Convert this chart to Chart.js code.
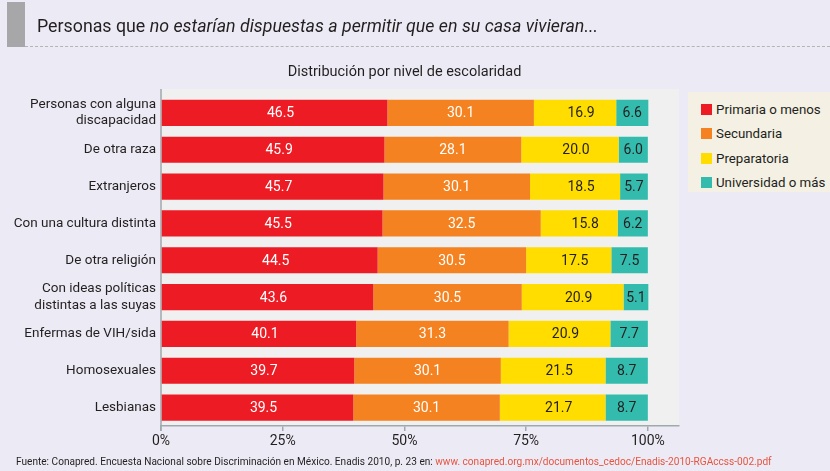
<!DOCTYPE html>
<html>
<head>
<meta charset="utf-8">
<script src="https://cdn.jsdelivr.net/npm/chart.js@4.4.1/dist/chart.umd.min.js"></script>
<style>
  html, body { margin:0; padding:0; }
  body { width:830px; height:471px; background:#ecebf5; position:relative; overflow:hidden; font-family: Roboto, "Liberation Sans", sans-serif; color:#231f20; }
  #wrap { position:absolute; left:0; top:0; width:830px; height:471px; }
  .hbar { position:absolute; left:7px; top:2px; width:18px; height:45px; background:#a7a7a9; }
  .hline { position:absolute; left:25px; top:46px; width:805px; height:0; border-top:1.5px dashed #b3b3b8; }
  .htitle { position:absolute; left:37px; top:15px; font-size:17.8px; white-space:nowrap; }
  .sub { position:absolute; left:161px; width:487px; top:63px; text-align:center; font-size:14.5px; }
  .legend { position:absolute; left:688px; top:92px; width:142px; height:100px; background:#f4f0e3; }
  .li { position:absolute; left:13px; font-size:13.3px; white-space:nowrap; }
  .li span { display:inline-block; width:11px; height:11px; margin-right:4px; vertical-align:-1px; }
  .foot { position:absolute; left:16px; top:456px; font-size:10.1px; white-space:nowrap; }
  .foot a { color:#e8533f; text-decoration:none; }
</style>
</head>
<body>
<div id="wrap"><canvas id="c"></canvas></div>
<div class="hbar"></div>
<div class="hline"></div>
<div class="htitle">Personas que <i>no estarían dispuestas a permitir que en su casa vivieran...</i></div>
<div class="sub">Distribución por nivel de escolaridad</div>
<div class="legend" id="legend"></div>
<div class="foot">Fuente: Conapred. Encuesta Nacional sobre Discriminación en México. Enadis 2010, p. 23 en: <a>www. conapred.org.mx/documentos_cedoc/Enadis-2010-RGAccss-002.pdf</a></div>
<script>
const categories = [
  ["Personas con alguna", "discapacidad"],
  "De otra raza",
  "Extranjeros",
  "Con una cultura distinta",
  "De otra religión",
  ["Con ideas políticas", "distintas a las suyas"],
  "Enfermas de VIH/sida",
  "Homosexuales",
  "Lesbianas"
];
const seriesNames = ["Primaria o menos", "Secundaria", "Preparatoria", "Universidad o más"];
const primaria     = [46.5, 45.9, 45.7, 45.5, 44.5, 43.6, 40.1, 39.7, 39.5];
const secundaria   = [30.1, 28.1, 30.1, 32.5, 30.5, 30.5, 31.3, 30.1, 30.1];
const preparatoria = [16.9, 20.0, 18.5, 15.8, 17.5, 20.9, 20.9, 21.5, 21.7];
const universidad  = [6.6, 6.0, 5.7, 6.2, 7.5, 5.1, 7.7, 8.7, 8.7];
const xTicks = [0, 25, 50, 75, 100];

const colors = ["#ed1c24", "#f58220", "#ffdd00", "#33bcad"];
const labelColors = ["#ffffff", "#ffffff", "#231f20", "#231f20"];
const labelShift = [6, 0, 6, 0];
const seriesData = [primaria, secundaria, preparatoria, universidad];

// HTML legend
const lg = document.getElementById('legend');
seriesNames.forEach((n, i) => {
  const d = document.createElement('div');
  d.className = 'li';
  d.style.top = (10 + i * 24.3) + 'px';
  d.innerHTML = '<span style="background:' + colors[i] + '"></span>' + n;
  lg.appendChild(d);
});

const bgPlugin = {
  id: 'bg',
  beforeDraw(chart) {
    const { ctx, chartArea } = chart;
    ctx.save();
    ctx.fillStyle = '#f0f0f0';
    ctx.fillRect(chartArea.left, 89, chartArea.right - chartArea.left, chartArea.bottom - 89);
    ctx.strokeStyle = '#9fa9ad';
    ctx.lineWidth = 1.5;
    ctx.beginPath();
    ctx.moveTo(chartArea.left, 89);
    ctx.lineTo(chartArea.left, chartArea.bottom + 5);
    ctx.stroke();
    ctx.restore();
  }
};

const labelPlugin = {
  id: 'vals',
  afterDatasetsDraw(chart) {
    const { ctx } = chart;
    ctx.save();
    ctx.font = '14px Roboto, "Liberation Sans", sans-serif';
    ctx.textAlign = 'center';
    ctx.textBaseline = 'middle';
    chart.data.datasets.forEach((ds, di) => {
      const meta = chart.getDatasetMeta(di);
      meta.data.forEach((el, i) => {
        const cx = (el.x + el.base) / 2 + labelShift[di];
        ctx.fillStyle = labelColors[di];
        ctx.fillText(ds.data[i].toFixed(1), cx, el.y + 1);
      });
    });
    ctx.restore();
  }
};

new Chart(document.getElementById('c'), {
  type: 'bar',
  data: {
    labels: categories,
    datasets: seriesNames.map((n, i) => ({
      label: n,
      data: seriesData[i],
      backgroundColor: colors[i],
      borderWidth: 0,
      barPercentage: 0.71,
      categoryPercentage: 1.0
    }))
  },
  options: {
    indexAxis: 'y',
    responsive: true,
    maintainAspectRatio: false,
    animation: false,
    layout: { padding: { left: 0, right: 151, top: 94.5, bottom: 21 } },
    plugins: { legend: { display: false }, tooltip: { enabled: false }, title: { display: false } },
    scales: {
      x: {
        stacked: true,
        min: 0,
        max: 106.4,
        afterBuildTicks(scale) { scale.ticks = xTicks.map(v => ({ value: v })); },
        afterFit(scale) { scale.height = 24; },
        grid: { display: true, drawOnChartArea: false, drawTicks: true, tickLength: 5, color: '#9fa9ad', lineWidth: 1.5 },
        border: { display: true, color: '#9fa9ad', width: 1.5 },
        ticks: {
          padding: 2,
          color: '#231f20',
          font: { family: 'Roboto, "Liberation Sans", sans-serif', size: 14 },
          callback: (v) => v + '%',
          maxRotation: 0,
          autoSkip: false
        }
      },
      y: {
        stacked: true,
        afterFit(scale) { scale.width = 161; },
        grid: { display: false, drawTicks: false },
        border: { display: false },
        ticks: {
          padding: 5,
          color: '#231f20',
          font: { family: 'Roboto, "Liberation Sans", sans-serif', size: 13.5, lineHeight: 1.2 },
          autoSkip: false
        }
      }
    }
  },
  plugins: [bgPlugin, labelPlugin]
});
</script>
</body>
</html>
